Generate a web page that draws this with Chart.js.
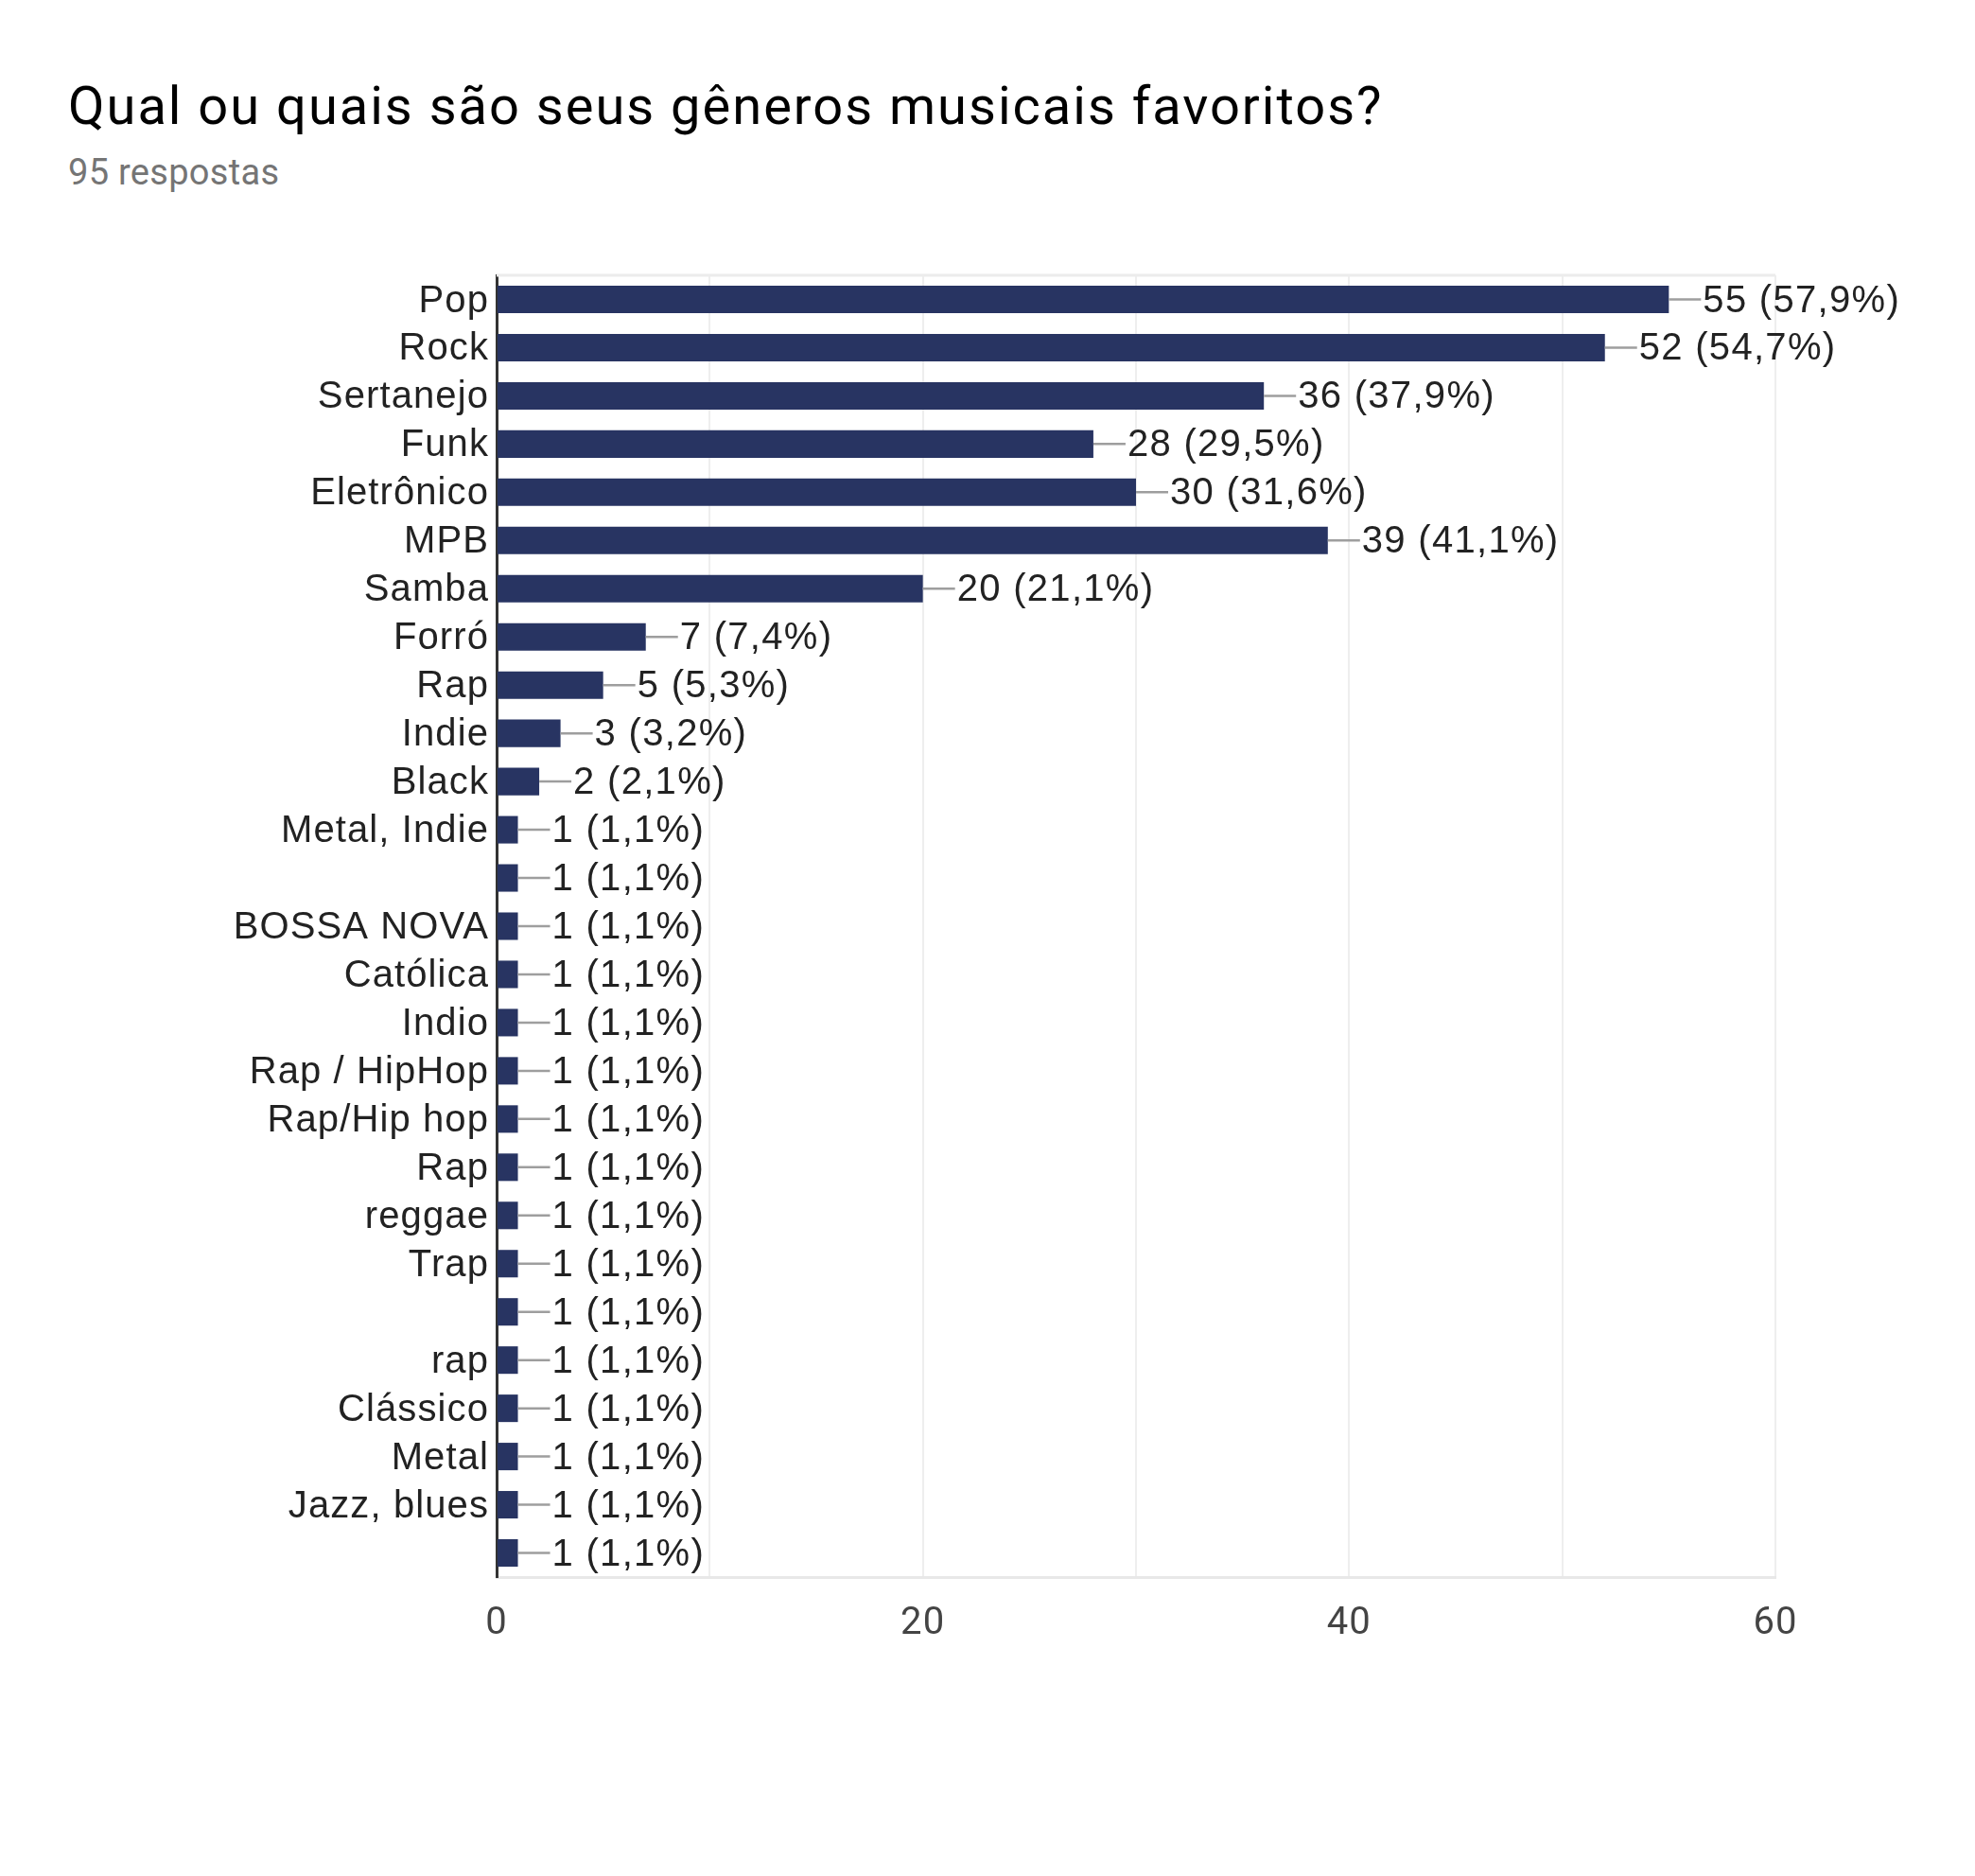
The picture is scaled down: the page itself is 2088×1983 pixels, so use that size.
<!DOCTYPE html>
<html>
<head>
<meta charset="utf-8">
<script src="https://cdn.jsdelivr.net/npm/chart.js@4.4.1/dist/chart.umd.min.js"></script>
<style>
  body{margin:0;background:#fff;}
  #wrap{position:relative;width:2088px;height:1983px;}
  #title{position:absolute;left:72px;top:84px;font:56px Roboto;letter-spacing:2px;line-height:1;color:#000;white-space:nowrap;}
  #sub{position:absolute;left:72px;top:163px;font:38px Roboto;letter-spacing:0.3px;line-height:1;color:#757575;white-space:nowrap;}
  canvas{position:absolute;left:0;top:0;}
</style>
</head>
<body>
<div id="wrap">
  <div id="title">Qual ou quais são seus gêneros musicais favoritos?</div>
  <div id="sub">95 respostas</div>
  <canvas id="chart" width="2088" height="1983"></canvas>
</div>
<script>
const generos = ["Pop","Rock","Sertanejo","Funk","Eletrônico","MPB","Samba","Forró","Rap","Indie","Black",
  "Metal, Indie","","BOSSA NOVA","Católica","Indio","Rap / HipHop","Rap/Hip hop","Rap","reggae","Trap","",
  "rap","Clássico","Metal","Jazz, blues",""];
const respostas = [55,52,36,28,30,39,20,7,5,3,2,1,1,1,1,1,1,1,1,1,1,1,1,1,1,1,1];
const pct = ["57,9%","54,7%","37,9%","29,5%","31,6%","41,1%","21,1%","7,4%","5,3%","3,2%","2,1%",
  "1,1%","1,1%","1,1%","1,1%","1,1%","1,1%","1,1%","1,1%","1,1%","1,1%","1,1%","1,1%","1,1%","1,1%","1,1%","1,1%"];
const xTicks = [0,20,40,60];

const LABEL_FONT = "40px 'Liberation Sans', Arial, sans-serif";

// moldura clara em cima + rotulos "n (x%)" com tracinho cinza
const rotulos = {
  id:"rotulos",
  beforeDraw(c){ c.ctx.letterSpacing="1.1px"; },
  beforeDatasetsDraw(c){
    const {ctx, chartArea:a} = c;
    ctx.save();
    ctx.strokeStyle="#ececec"; ctx.lineWidth=3;
    ctx.beginPath(); ctx.moveTo(a.left,a.top); ctx.lineTo(a.right,a.top); ctx.stroke();
    ctx.restore();
  },
  afterDatasetsDraw(c){
    const ctx=c.ctx;
    const meta=c.getDatasetMeta(0);
    ctx.save();
    ctx.letterSpacing="1.3px";
    ctx.font=LABEL_FONT;
    ctx.textBaseline="middle";
    ctx.fillStyle="#222";
    meta.data.forEach((bar,i)=>{
      ctx.strokeStyle="#9e9e9e"; ctx.lineWidth=2.5;
      ctx.beginPath(); ctx.moveTo(bar.x,bar.y); ctx.lineTo(bar.x+34,bar.y); ctx.stroke();
      ctx.fillText(respostas[i]+" ("+pct[i]+")", bar.x+36, bar.y+2);
    });
    ctx.restore();
  }
};

new Chart(document.getElementById("chart"),{
  type:"bar",
  data:{labels:generos,datasets:[{data:respostas,backgroundColor:"#283462",barPercentage:0.57,categoryPercentage:1}]},
  options:{
    indexAxis:"y",
    responsive:false,
    devicePixelRatio:1,
    animation:false,
    layout:{padding:{top:291,right:211,bottom:216,left:0}},
    plugins:{legend:{display:false},tooltip:{enabled:false}},
    scales:{
      x:{
        min:0,max:60,
        afterFit(s){ s.height=100; },
        afterBuildTicks(s){ s.ticks=[0,10,20,30,40,50,60].map(v=>({value:v})); },
        ticks:{
          padding:26,color:"#444",font:{family:"Roboto",size:40},
          callback:v=>xTicks.includes(v)?String(v):""
        },
        grid:{drawTicks:false,lineWidth:2,color:c=>c.tick&&c.tick.value===0?"rgba(0,0,0,0)":"#eeeeee"},
        border:{color:"#e8e8e8",width:3}
      },
      y:{
        afterFit(s){ s.width=525; },
        ticks:{autoSkip:false,padding:8,labelOffset:2,color:"#222",font:{family:"'Liberation Sans', Arial",size:40}},
        grid:{display:false,drawTicks:false},
        border:{color:"#333",width:3}
      }
    }
  },
  plugins:[rotulos]
});
</script>
</body>
</html>
